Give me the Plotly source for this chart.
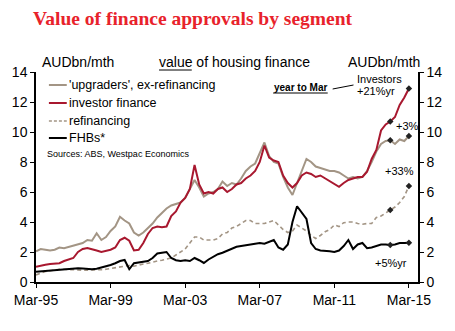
import pandas as pd
import plotly.graph_objects as go

# Quarterly observations, Mar-95 .. Mar-15 (AUDbn/mth)
dates = pd.date_range("1995-03-01", "2015-03-01", freq="3MS")

upgraders = [
    2.05, 2.2, 2.15, 2.1,
    2.15, 2.3, 2.25, 2.35,
    2.45, 2.5, 2.6, 2.8,
    2.75, 3.25, 2.8, 3.0,
    3.4, 3.7, 4.35, 4.1,
    3.9, 3.3, 3.1, 3.3,
    3.6, 3.9, 4.3, 4.6,
    4.9, 5.1, 5.2, 5.3,
    5.6, 6.2, 6.8, 6.3,
    5.7, 5.9, 6.0, 6.2,
    6.7, 6.4, 6.6, 6.5,
    6.9, 7.4, 7.7, 7.9,
    8.6, 9.3, 8.4, 8.0,
    7.9, 7.0, 6.3, 5.8,
    6.6, 7.4, 8.2, 8.0,
    7.7, 7.6, 7.5, 7.4,
    7.4, 7.3, 7.1, 6.9,
    7.0, 6.9, 7.0, 7.4,
    8.0, 8.7, 9.2, 9.4,
    9.45, 9.2, 9.5, 9.4,
    9.73,
]

investor = [
    1.02, 1.1, 1.15, 1.2,
    1.2, 1.25, 1.4, 1.5,
    1.6, 2.0, 2.2, 2.27,
    2.2, 2.1, 2.0, 2.05,
    2.15, 2.3, 2.8, 2.95,
    2.75, 2.1, 2.15, 2.6,
    3.2, 3.6, 3.7, 3.65,
    3.7, 4.4, 4.7, 5.3,
    5.6, 6.2, 7.8, 6.5,
    5.9, 6.0, 5.9, 6.2,
    6.3, 6.0, 6.2, 6.5,
    6.6, 6.9, 7.1, 7.4,
    8.0, 9.1, 8.3, 8.1,
    8.0, 7.1, 6.6, 6.3,
    6.6, 7.1, 7.3, 7.2,
    7.0, 7.1, 6.9, 6.7,
    6.5, 6.35, 6.6, 6.8,
    6.9, 7.0, 7.0, 7.35,
    8.2, 8.8, 10.1, 10.5,
    10.7, 11.0, 11.8, 12.3,
    12.9,
]

refinancing = [
    0.47, 0.6, 0.7, 0.75,
    0.8, 0.85, 0.85, 0.82,
    0.8, 0.8, 0.78, 0.78,
    0.78, 0.8, 0.82, 0.85,
    0.9, 0.95, 1.0, 1.05,
    1.1, 1.05, 1.1, 1.2,
    1.25, 1.3, 1.4, 1.45,
    1.5, 1.6, 1.8, 2.0,
    2.2, 2.6, 3.0, 3.0,
    2.8, 2.8, 2.8, 2.9,
    3.2, 3.3, 3.6, 3.7,
    3.9, 4.1, 4.1, 3.9,
    3.9, 3.9, 4.0, 4.1,
    3.8, 3.5, 3.3, 3.4,
    3.8, 3.6, 3.4, 3.1,
    2.9, 3.1, 3.35, 3.5,
    3.8, 3.7, 3.95, 4.0,
    4.0, 3.9, 3.85, 3.9,
    3.9, 4.3, 4.4, 4.6,
    4.8, 5.0, 5.3, 5.7,
    6.4,
]

fhb = [
    0.69, 0.72, 0.75, 0.78,
    0.8, 0.85, 0.85, 0.9,
    0.93, 0.92, 0.9, 0.87,
    0.85, 0.88, 0.95, 1.05,
    1.13, 1.25, 1.4, 1.47,
    0.85, 1.25, 1.3, 1.35,
    1.4, 1.6, 1.9, 1.95,
    2.0, 1.6, 1.45, 1.4,
    1.45, 1.4, 1.6, 1.45,
    1.27, 1.5, 1.7, 1.85,
    1.95, 2.1, 2.25, 2.35,
    2.4, 2.47, 2.5, 2.55,
    2.6, 2.55, 2.7, 2.8,
    2.3, 2.15, 2.5, 4.0,
    5.05, 4.6, 4.2, 2.6,
    2.2, 2.1, 2.1, 2.05,
    2.0, 2.1, 2.4, 2.8,
    2.2, 2.5, 2.6, 2.25,
    2.3, 2.4, 2.5, 2.5,
    2.47, 2.5, 2.6, 2.6,
    2.62,
]

series_names = ["'upgraders', ex-refinancing", "investor finance", "refinancing", "FHBs*"]
y_ticks = [0, 2, 4, 6, 8, 10, 12, 14]

C_UPG = "#A39585"
C_INV = "#A8182F"
C_REF = "#A39585"
C_FHB = "#000000"
FONT = "Liberation Sans, Arial, sans-serif"

fig = go.Figure()
styles = [
    (upgraders, C_UPG, "solid", 2),
    (investor, C_INV, "solid", 2),
    (refinancing, C_REF, "4px,3px", 1.6),
    (fhb, C_FHB, "solid", 2),
]
for (vals, col, dash, w), name in zip(styles, series_names):
    fig.add_trace(go.Scatter(x=dates, y=vals, mode="lines", name=name,
                             line=dict(color=col, width=w, dash=dash),
                             showlegend=False))

# year-to-March markers (Mar-14 and Mar-15)
for vals in [upgraders, investor, refinancing, fhb]:
    fig.add_trace(go.Scatter(x=[dates[-5], dates[-1]], y=[vals[-5], vals[-1]],
                             mode="markers", showlegend=False,
                             marker=dict(symbol="diamond", size=5, color="#222")))

# right-axis twin
fig.add_trace(go.Scatter(x=[dates[0]], y=[0], yaxis="y2", mode="markers",
                         marker=dict(opacity=0), showlegend=False, hoverinfo="skip"))

fig.update_layout(
    width=455, height=331,
    margin=dict(l=33, r=37, t=72, b=49),
    paper_bgcolor="white", plot_bgcolor="white",
    font=dict(family=FONT, size=14, color="#000"),
    title=dict(text="<b>Value of finance approvals by segment</b>",
               font=dict(family="Liberation Serif, Times New Roman, serif", size=19.5, color="#E8222B"),
               x=33/455, xanchor="left", xref="container",
               y=1-18/331, yanchor="middle", yref="container"),
    xaxis=dict(type="date", range=["1995-03-01", "2015-08-26"],
               tick0="1995-03-01", dtick="M48", tickformat="%b-%y",
               showgrid=False, zeroline=False, showline=True, linecolor="#000", linewidth=1.5,
               ticks="outside", ticklen=4, tickcolor="#000",
               tickfont=dict(size=14)),
    yaxis=dict(range=[0, 14], tickvals=y_ticks, showgrid=False, zeroline=False,
               showline=True, linecolor="#000", linewidth=1.5,
               ticks="outside", ticklen=4, tickcolor="#000", tickfont=dict(size=14)),
    yaxis2=dict(range=[0, 14], tickvals=y_ticks, overlaying="y", side="right",
                showgrid=False, zeroline=False, showline=True, linecolor="#000", linewidth=1.5,
                ticks="outside", ticklen=4, tickcolor="#000", tickfont=dict(size=14)),
)

def px2paper(px, py):
    return (px - 33) / 385, (282 - py) / 210

ann = []
def add_text(text, px, py, xanchor="left", size=12, **kw):
    x, y = px2paper(px, py)
    ann.append(dict(text=text, x=x, y=y, xref="paper", yref="paper", xanchor=xanchor,
                    yanchor="middle", showarrow=False, borderpad=0,
                    font=dict(size=size, family=FONT, color="#000"), **kw))

add_text("AUDbn/mth", 38, 62, size=14)
add_text("AUDbn/mth", 421, 62, xanchor="right", size=14)
add_text("value of housing finance", 156, 62, size=14)

legend_y = [85, 103, 121, 138]
legend_cols = [(C_UPG, "solid", 2), (C_INV, "solid", 2), (C_REF, "3px,2px", 1.6), (C_FHB, "solid", 2)]
shapes = []
for name, ly, (col, dash, w) in zip(series_names, legend_y, legend_cols):
    add_text(name, 65, ly, size=12.5)
    x0, y0 = px2paper(46, ly)
    x1, _ = px2paper(64, ly)
    shapes.append(dict(type="line", xref="paper", yref="paper", x0=x0, x1=x1, y0=y0, y1=y0,
                       line=dict(color=col, width=w, dash=dash)))

add_text("Sources: ABS, Westpac Economics", 43, 154, size=9)
add_text("Investors", 356, 79, size=11)
add_text("+21%yr", 356, 91, size=11)
add_text("<b>year to Mar</b>", 272, 87, size=10)
add_text("+3%", 395, 126, size=11)
add_text("+33%", 384, 171, size=11)
add_text("+5%yr", 374, 263, size=11)

# underlines and connector
for (a, b, yy) in [(157, 190, 70), (272, 327, 93)]:
    x0, y0 = px2paper(a, yy)
    x1, _ = px2paper(b, yy)
    shapes.append(dict(type="line", xref="paper", yref="paper", x0=x0, x1=x1, y0=y0, y1=y0,
                       line=dict(color="#000", width=1)))
x0, y0 = px2paper(332, 89)
x1, y1 = px2paper(353, 85)
shapes.append(dict(type="line", xref="paper", yref="paper", x0=x0, x1=x1, y0=y0, y1=y1,
                   line=dict(color="#000", width=1)))

fig.update_layout(annotations=ann, shapes=shapes)
fig.write_html("out.html")
